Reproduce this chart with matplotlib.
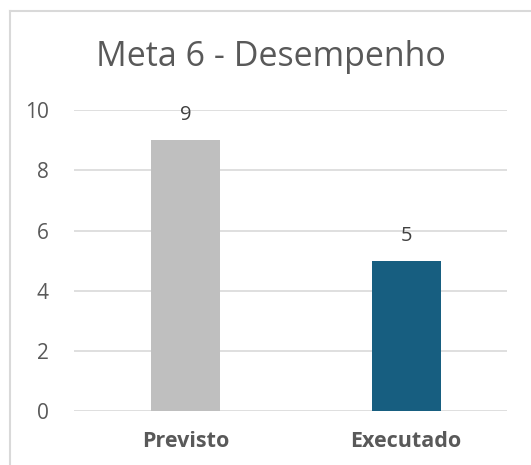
import matplotlib
matplotlib.use("Agg")
import matplotlib.pyplot as plt
from matplotlib.lines import Line2D

categorias = ["Previsto", "Executado"]
valores = [9, 5]
cores = ["#bfbfbf", "#175e80"]
titulo = "Meta 6 - Desempenho"

plt.rcParams["font.family"] = ["Open Sans", "DejaVu Sans"]

fig = plt.figure(figsize=(5.31, 4.65), dpi=100)
ax = fig.add_axes([0.139, 0.116, 0.816, 0.647])

x = range(len(categorias))
barras = ax.bar(x, valores, width=0.313, color=cores, zorder=3)
for b, v in zip(barras, valores):
    ax.text(b.get_x() + b.get_width() / 2, v + 0.5, str(v), ha="center", va="bottom",
            fontsize=14.5, color="#404040")

ax.set_xlim(-0.506, 1.458)
ax.set_ylim(0, 10)
ax.set_yticks(range(0, 11, 2))
ax.yaxis.grid(True, color="#d9d9d9", lw=1.2, zorder=0)
ax.set_xticks(list(x))
ax.set_xticklabels(categorias, fontsize=15.5, fontweight="bold", color="#595959")
ax.tick_params(axis="y", labelsize=15, labelcolor="#595959", length=0, pad=18)
ax.tick_params(axis="x", length=0, pad=14)
for s in ax.spines.values():
    s.set_visible(False)

fig.text(0.51, 0.877, titulo, ha="center", va="center", fontsize=24.5, color="#595959")

# borda do gráfico
fig.add_artist(Line2D([10 / 531, 10 / 531], [0, 1 - 11 / 465], color="#d9d9d9", lw=1.5,
                      transform=fig.transFigure))
fig.add_artist(Line2D([10 / 531, 1], [1 - 11 / 465, 1 - 11 / 465], color="#d9d9d9", lw=1.5,
                      transform=fig.transFigure))

fig.savefig("out.png", dpi=100)
